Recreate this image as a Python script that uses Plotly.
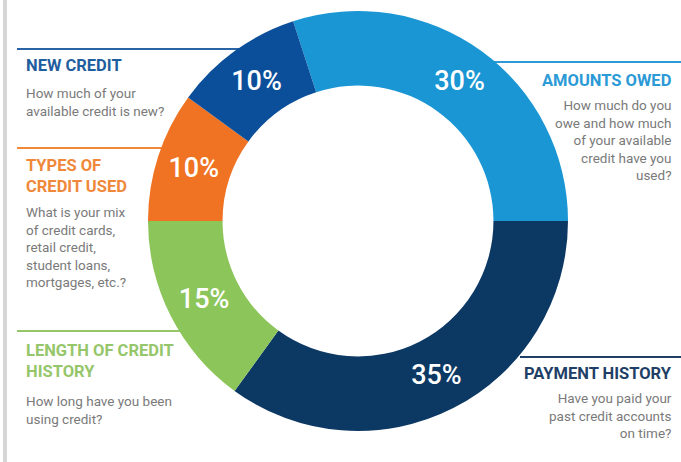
import plotly.graph_objects as go

W, H = 681, 462

categories = ["AMOUNTS OWED", "PAYMENT HISTORY", "LENGTH OF CREDIT HISTORY", "TYPES OF CREDIT USED", "NEW CREDIT"]
values = [30, 35, 15, 10, 10]
slice_colors = ["#1a96d4", "#0c3864", "#8cc55a", "#ef7322", "#0b4f9b"]

title_texts = ["AMOUNTS OWED", "PAYMENT HISTORY", "LENGTH OF CREDIT<br>HISTORY", "TYPES OF<br>CREDIT USED", "NEW CREDIT"]
title_colors = ["#2b9ad6", "#1f3f66", "#96c66a", "#f0883a", "#1f5e9e"]
sub_texts = [
    "How much do you<br>owe and how much<br>of your available<br>credit have you<br>used?",
    "Have you paid your<br>past credit accounts<br>on time?",
    "How long have you been<br>using credit?",
    "What is your mix<br>of credit cards,<br>retail credit,<br>student loans,<br>mortgages, etc.?",
    "How much of your<br>available credit is new?",
]

FONT = "Roboto, Liberation Sans, sans-serif"

def px(x):
    return x / W

def py(y):
    return 1 - y / H

cx, cy, R = 358, 221, 210

fig = go.Figure()
fig.add_trace(go.Pie(
    labels=categories,
    values=values,
    sort=False,
    direction="clockwise",
    rotation=-18,
    hole=0.645,
    marker=dict(colors=slice_colors, line=dict(width=0)),
    texttemplate="%{value}%",
    textposition="inside",
    insidetextorientation="horizontal",
    textfont=dict(color="white", size=27, family=FONT, weight=500),
    domain=dict(x=[px(cx - R), px(cx + R)], y=[py(cy + R), py(cy - R)]),
    showlegend=False,
    hoverinfo="label+percent",
))

shapes = []
# left border
shapes.append(dict(type="rect", xref="paper", yref="paper", x0=px(3), x1=px(7), y0=0, y1=1,
                   fillcolor="#d6d6d6", line=dict(width=0), layer="below"))
# leader lines: (y, x0, x1, color)
leaders = [
    (62, 470, 681, title_colors[0]),
    (357, 520, 681, title_colors[1]),
    (331, 17, 190, title_colors[2]),
    (148, 17, 170, title_colors[3]),
    (49, 17, 250, "#2a63a6"),
]
for (yy, x0, x1, col) in leaders:
    shapes.append(dict(type="line", xref="paper", yref="paper", x0=px(x0), x1=px(x1), y0=py(yy), y1=py(yy),
                       line=dict(color=col, width=2), layer="below"))

# label blocks: (title_x, anchor, title_center_y, sub_center_y)
blocks = [
    (674, "right", 80, 139.5),
    (674, "right", 373, 415.5),
    (24, "left", 361, 410),
    (24, "left", 176, 246.5),
    (24, "left", 65, 102),
]
annotations = []
for i, (tx, anc, ty, sy) in enumerate(blocks):
    annotations.append(dict(x=px(tx), y=py(ty), xref="paper", yref="paper", xanchor=anc, yanchor="middle",
                            text="<b>" + title_texts[i] + "</b>", showarrow=False, align=anc,
                            font=dict(family=FONT, size=16.5, color=title_colors[i])))
    annotations.append(dict(x=px(tx), y=py(sy), xref="paper", yref="paper", xanchor=anc, yanchor="middle",
                            text=sub_texts[i], showarrow=False, align=anc,
                            font=dict(family=FONT, size=13.5, color="#7a7a7a")))

fig.update_layout(
    width=W, height=H,
    margin=dict(l=0, r=0, t=0, b=0),
    paper_bgcolor="white", plot_bgcolor="white",
    shapes=shapes, annotations=annotations,
)

fig.write_html("out.html")
